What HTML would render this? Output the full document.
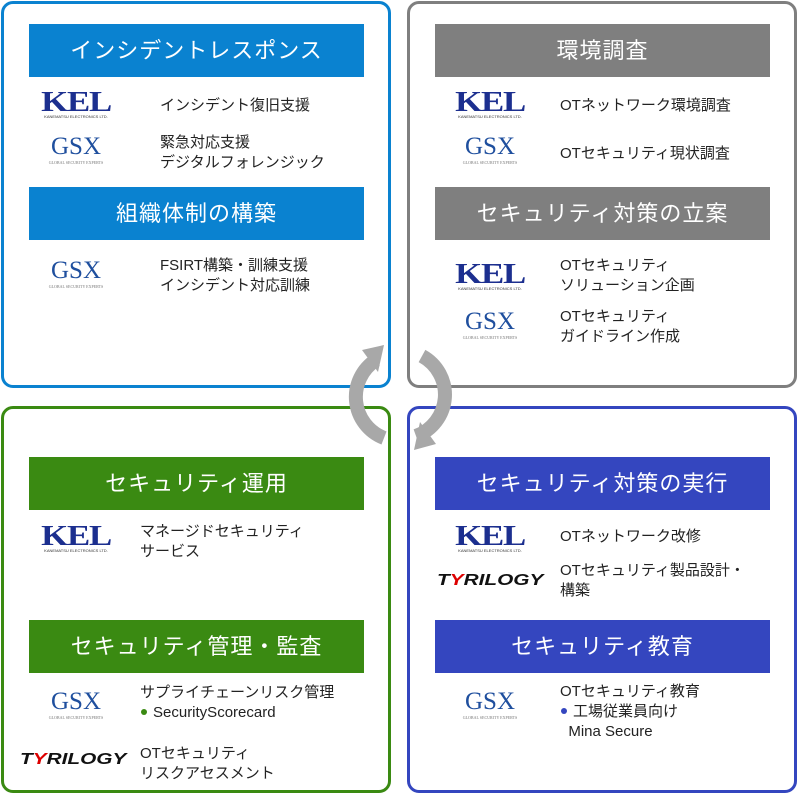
<!DOCTYPE html>
<html><head><meta charset="utf-8"><style>
*{margin:0;padding:0;box-sizing:border-box}
body{width:800px;height:797px;background:#fff;position:relative;overflow:hidden;font-family:"Liberation Sans","Noto Sans CJK JP",sans-serif;color:#222}
.box{position:absolute;border:3px solid;border-radius:12px;width:390px;height:387px}
.h{position:absolute;width:335px;height:53px;color:#fff;font-size:22px;line-height:53px;text-align:center;letter-spacing:1px}
.t{position:absolute;font-size:15px;line-height:20px;white-space:nowrap}
.kel{position:absolute;width:78px;text-align:center;color:#1c2f8f;font-family:"Liberation Serif",serif;font-weight:bold;font-size:29px;line-height:24px;letter-spacing:-1px}
.kel span{display:inline-block;transform:scaleX(1.2)}
.kel small{display:block;font-family:"Liberation Sans",sans-serif;font-weight:normal;font-size:4px;line-height:6px;color:#333;letter-spacing:0}
.gsx{position:absolute;width:62px;text-align:center;color:#1f4f9e;font-family:"Liberation Serif",serif;font-size:25px;line-height:24px}
.gsx small{display:block;font-size:4px;line-height:8px;color:#777;letter-spacing:0}
.tri{position:absolute;font-family:"Liberation Sans",sans-serif;font-weight:bold;font-style:italic;font-size:16px;color:#111;letter-spacing:0px;transform:scaleX(1.3);transform-origin:left}
.tri b{color:#d00}
.dot{display:inline-block;width:6px;height:6px;border-radius:3px;margin:0 6px 2px 1px;vertical-align:middle}
</style></head><body>
<div class="box" style="left:1px;top:1px;border-color:#0a82d0"></div>
<div class="box" style="left:407px;top:1px;border-color:#7f7f7f"></div>
<div class="box" style="left:1px;top:406px;border-color:#3a8a12"></div>
<div class="box" style="left:407px;top:406px;border-color:#3446bf"></div>

<svg style="position:absolute;left:0;top:0" width="800" height="797">
<path d="M376,360 A44,44 0 0 0 384,438" fill="none" stroke="#a8a8a8" stroke-width="14"/>
<polygon points="384,345 362,350 378,372" fill="#a8a8a8"/>
<path d="M422,356 A44,44 0 0 1 416,436" fill="none" stroke="#a8a8a8" stroke-width="14"/>
<polygon points="414,450 436,444 420,422" fill="#a8a8a8"/>
</svg>

<div class="h" style="left:29px;top:24px;background:#0a82d0">インシデントレスポンス</div>
<div class="h" style="left:29px;top:187px;background:#0a82d0">組織体制の構築</div>
<div class="h" style="left:435px;top:24px;background:#7f7f7f">環境調査</div>
<div class="h" style="left:435px;top:187px;background:#7f7f7f">セキュリティ対策の立案</div>
<div class="h" style="left:29px;top:457px;background:#3a8a12">セキュリティ運用</div>
<div class="h" style="left:29px;top:620px;background:#3a8a12">セキュリティ管理・監査</div>
<div class="h" style="left:435px;top:457px;background:#3446bf">セキュリティ対策の実行</div>
<div class="h" style="left:435px;top:620px;background:#3446bf">セキュリティ教育</div>

<div class="kel" style="left:37px;top:90px"><span>KEL</span><small>KANEMATSU ELECTRONICS LTD.</small></div>
<div class="t" style="left:160px;top:96px">インシデント復旧支援</div>
<div class="gsx" style="left:45px;top:135px">GSX<small>GLOBAL SECURITY EXPERTS</small></div>
<div class="t" style="left:160px;top:133px">緊急対応支援<br>デジタルフォレンジック</div>
<div class="gsx" style="left:45px;top:259px">GSX<small>GLOBAL SECURITY EXPERTS</small></div>
<div class="t" style="left:160px;top:256px">FSIRT構築・訓練支援<br>インシデント対応訓練</div>

<div class="kel" style="left:451px;top:90px"><span>KEL</span><small>KANEMATSU ELECTRONICS LTD.</small></div>
<div class="t" style="left:560px;top:96px">OTネットワーク環境調査</div>
<div class="gsx" style="left:459px;top:135px">GSX<small>GLOBAL SECURITY EXPERTS</small></div>
<div class="t" style="left:560px;top:144px">OTセキュリティ現状調査</div>
<div class="kel" style="left:451px;top:262px"><span>KEL</span><small>KANEMATSU ELECTRONICS LTD.</small></div>
<div class="t" style="left:560px;top:256px">OTセキュリティ<br>ソリューション企画</div>
<div class="gsx" style="left:459px;top:310px">GSX<small>GLOBAL SECURITY EXPERTS</small></div>
<div class="t" style="left:560px;top:307px">OTセキュリティ<br>ガイドライン作成</div>

<div class="kel" style="left:37px;top:524px"><span>KEL</span><small>KANEMATSU ELECTRONICS LTD.</small></div>
<div class="t" style="left:140px;top:522px">マネージドセキュリティ<br>サービス</div>
<div class="gsx" style="left:45px;top:690px">GSX<small>GLOBAL SECURITY EXPERTS</small></div>
<div class="t" style="left:140px;top:683px">サプライチェーンリスク管理<br><span class="dot" style="background:#3a8a12"></span>SecurityScorecard</div>
<div class="tri" style="left:20px;top:751px">T<b>Y</b>RILOGY</div>
<div class="t" style="left:140px;top:744px">OTセキュリティ<br>リスクアセスメント</div>

<div class="kel" style="left:451px;top:524px"><span>KEL</span><small>KANEMATSU ELECTRONICS LTD.</small></div>
<div class="t" style="left:560px;top:527px">OTネットワーク改修</div>
<div class="tri" style="left:437px;top:572px">T<b>Y</b>RILOGY</div>
<div class="t" style="left:560px;top:561px">OTセキュリティ製品設計・<br>構築</div>
<div class="gsx" style="left:459px;top:690px">GSX<small>GLOBAL SECURITY EXPERTS</small></div>
<div class="t" style="left:560px;top:682px">OTセキュリティ教育<br><span class="dot" style="background:#3446bf"></span>工場従業員向け<br>&nbsp;&nbsp;Mina Secure</div>
</body></html>
